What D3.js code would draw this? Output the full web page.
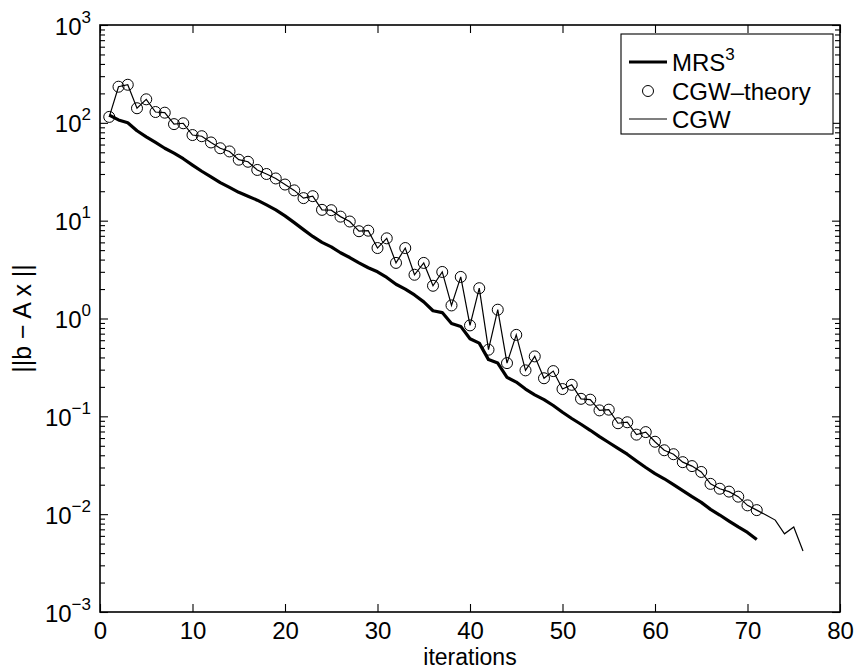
<!DOCTYPE html>
<html>
<head>
<meta charset="utf-8">
<script src="https://cdn.jsdelivr.net/npm/d3@7"></script>
<style>
  html, body { margin: 0; padding: 0; background: #fff; }
  svg { display: block; }
  text { font-family: "Liberation Sans", Arial, Helvetica, sans-serif; fill: #000; }
</style>
</head>
<body>
<svg id="chart" width="858" height="671"></svg>
<script>
// ---- data ----
const mrs3 = [120, 107, 100, 83, 72, 63, 55, 49, 43, 37,
  32, 28, 24.5, 21.9, 19.5, 17.8, 16.2, 14.5, 12.9, 11.2,
  9.55, 8.1, 6.9, 6.0, 5.4, 4.7, 4.2, 3.7, 3.3, 3.0,
  2.63, 2.24, 2.0, 1.74, 1.48, 1.2, 1.15, 0.89, 0.83, 0.62,
  0.56, 0.38, 0.35, 0.25, 0.224, 0.19, 0.166, 0.148, 0.129, 0.110,
  0.095, 0.083, 0.072, 0.062, 0.054, 0.047, 0.041, 0.035, 0.030, 0.026,
  0.023, 0.020, 0.0174, 0.0151, 0.0132, 0.0112, 0.0098, 0.0085, 0.0074, 0.0065,
  0.0055];
const cgwTheory = [115, 234, 245, 141, 174, 129, 127, 97, 99, 75,
  73, 63, 55, 51, 42, 40, 33, 30, 27, 23.4,
  20.4, 17.0, 17.8, 12.9, 12.8, 11.0, 9.8, 7.8, 7.9, 5.25,
  6.6, 3.7, 5.25, 2.8, 3.7, 2.16, 2.99, 1.36, 2.66, 0.85,
  2.04, 0.48, 1.23, 0.35, 0.68, 0.295, 0.41, 0.245, 0.29, 0.19,
  0.21, 0.151, 0.148, 0.115, 0.117, 0.085, 0.087, 0.065, 0.069, 0.055,
  0.045, 0.041, 0.034, 0.031, 0.027, 0.0204, 0.0182, 0.0170, 0.0151, 0.0123,
  0.0110];
const cgwTail = [0.0098, 0.0087, 0.0063, 0.0074, 0.0042]; // iterations 72..76
const cgw = cgwTheory.concat(cgwTail);
const xTicks = [0, 10, 20, 30, 40, 50, 60, 70, 80];
const yTickExps = [-3, -2, -1, 0, 1, 2, 3];
const legendLabels = ["MRS", "CGW\u2013theory", "CGW"];

// ---- layout ----
const m = { left: 100, right: 840, top: 25, bottom: 612 };
const svg = d3.select("#chart");

const x = d3.scaleLinear().domain([0, 80]).range([m.left, m.right]);
const y = d3.scaleLog().domain([1e-3, 1e3]).range([m.bottom, m.top]);

const majorVals = yTickExps.map(e => Math.pow(10, e));
const minorVals = [];
for (let e = -3; e < 3; e++) for (let k = 2; k <= 9; k++) minorVals.push(k * Math.pow(10, e));

const majorLen = 8, minorLen = 5;
const axStroke = 1.6;

function styleAxis(g) {
  g.select(".domain").remove();
  g.selectAll(".tick line").attr("stroke", "#000").attr("stroke-width", 1.1);
}

// bottom & top x axes
svg.append("g").attr("transform", `translate(0,${m.bottom})`)
  .call(d3.axisBottom(x).tickValues(xTicks).tickSize(-majorLen).tickFormat(d3.format("d")))
  .call(styleAxis)
  .call(g => g.selectAll(".tick text").attr("dy", null).attr("y", 27)
     .attr("font-size", 24).attr("font-family", "Liberation Sans, Arial, sans-serif"));
svg.append("g").attr("transform", `translate(0,${m.top})`)
  .call(d3.axisTop(x).tickValues(xTicks).tickSize(-majorLen).tickFormat(""))
  .call(styleAxis);

// left & right y axes (major + minor)
const yl = svg.append("g").attr("transform", `translate(${m.left},0)`)
  .call(d3.axisLeft(y).tickValues(majorVals).tickSize(-majorLen).tickFormat(""))
  .call(styleAxis);
yl.selectAll(".tick").each(function(d, i) {
  const t = d3.select(this).append("text")
    .attr("y", 9).attr("text-anchor", "start").attr("font-size", 24);
  t.append("tspan").text("10");
  t.append("tspan").attr("dy", -12).attr("font-size", 17)
    .text(String(yTickExps[i]).replace("-", "\u2212"));
  const w = t.node().getComputedTextLength();
  t.attr("x", -9 - w);
});
svg.append("g").attr("transform", `translate(${m.left},0)`)
  .call(d3.axisLeft(y).tickValues(minorVals).tickSize(-minorLen).tickFormat(""))
  .call(styleAxis);
svg.append("g").attr("transform", `translate(${m.right},0)`)
  .call(d3.axisRight(y).tickValues(majorVals).tickSize(-majorLen).tickFormat(""))
  .call(styleAxis);
svg.append("g").attr("transform", `translate(${m.right},0)`)
  .call(d3.axisRight(y).tickValues(minorVals).tickSize(-minorLen).tickFormat(""))
  .call(styleAxis);

// box
svg.append("rect").attr("x", m.left).attr("y", m.top)
  .attr("width", m.right - m.left).attr("height", m.bottom - m.top)
  .attr("fill", "none").attr("stroke", "#000").attr("stroke-width", axStroke);

// axis labels
svg.append("text").attr("x", (m.left + m.right) / 2).attr("y", 665)
  .attr("text-anchor", "middle").attr("font-size", 23).text("iterations");
svg.append("text").attr("transform", `translate(31,${(m.top + m.bottom) / 2}) rotate(-90)`)
  .attr("text-anchor", "middle").attr("font-size", 25).text("||b \u2212 A x ||");

// ---- series ----
const line = d3.line().x((d, i) => x(i + 1)).y(d => y(d));
svg.append("path").datum(mrs3).attr("d", line)
  .attr("fill", "none").attr("stroke", "#000").attr("stroke-width", 3.2).attr("stroke-linejoin", "round");
svg.append("path").datum(cgw).attr("d", line)
  .attr("fill", "none").attr("stroke", "#000").attr("stroke-width", 1.2);
svg.append("g").selectAll("circle").data(cgwTheory).join("circle")
  .attr("cx", (d, i) => x(i + 1)).attr("cy", d => y(d)).attr("r", 5.5)
  .attr("fill", "none").attr("stroke", "#000").attr("stroke-width", 1);

// ---- legend ----
const lg = svg.append("g");
const lx = 621, ly = 34, lw = 212, lh = 100;
lg.append("rect").attr("x", lx).attr("y", ly).attr("width", lw).attr("height", lh)
  .attr("fill", "#fff").attr("stroke", "#000").attr("stroke-width", 1.1);
const rows = [62, 91, 119];
lg.append("line").attr("x1", lx + 8).attr("x2", lx + 46).attr("y1", rows[0]).attr("y2", rows[0])
  .attr("stroke", "#000").attr("stroke-width", 3.2);
lg.append("circle").attr("cx", lx + 27).attr("cy", rows[1]).attr("r", 5.5)
  .attr("fill", "none").attr("stroke", "#000").attr("stroke-width", 1);
lg.append("line").attr("x1", lx + 8).attr("x2", lx + 46).attr("y1", rows[2]).attr("y2", rows[2])
  .attr("stroke", "#000").attr("stroke-width", 1.2);
const t0 = lg.append("text").attr("x", lx + 51).attr("y", rows[0] + 9).attr("font-size", 24);
t0.append("tspan").text(legendLabels[0]);
t0.append("tspan").attr("dy", -11).attr("font-size", 17).text("3");
lg.append("text").attr("x", lx + 51).attr("y", rows[1] + 9).attr("font-size", 24).text(legendLabels[1]);
lg.append("text").attr("x", lx + 51).attr("y", rows[2] + 9).attr("font-size", 24).text(legendLabels[2]);
</script>
</body>
</html>
